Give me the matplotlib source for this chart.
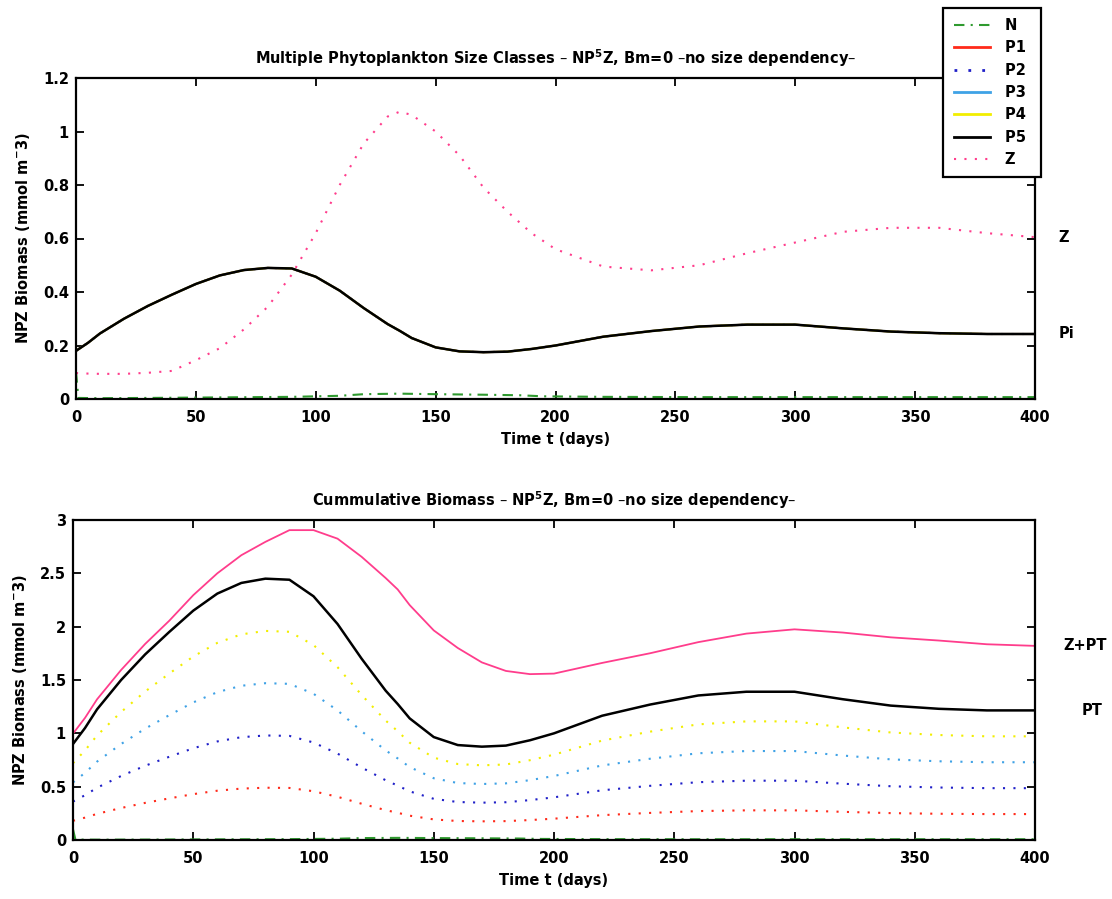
import matplotlib
matplotlib.use('Agg')
import matplotlib.pyplot as plt
import matplotlib.transforms as mtransforms
from matplotlib.lines import Line2D
from matplotlib.ticker import FormatStrFormatter
import numpy as np

# time axis (days) shared by phytoplankton and zooplankton
days = [0, 5, 10, 20, 30, 40, 50, 60, 70, 80, 90, 100, 110, 120, 130, 135, 140,
        150, 160, 170, 180, 190, 200, 220, 240, 260, 280, 300, 320, 340, 360, 380, 400]

# one size class (all five classes are identical: no size dependency)
phyto = [0.18, 0.21, 0.245, 0.30, 0.348, 0.39, 0.43, 0.462, 0.482, 0.49, 0.488, 0.457,
         0.405, 0.34, 0.28, 0.255, 0.228, 0.193, 0.178, 0.175, 0.177, 0.187, 0.20,
         0.233, 0.254, 0.271, 0.278, 0.278, 0.264, 0.252, 0.246, 0.243, 0.243]

zoo = [0.097, 0.095, 0.094, 0.094, 0.098, 0.105, 0.145, 0.19, 0.26, 0.345, 0.465, 0.62,
       0.80, 0.955, 1.056, 1.074, 1.062, 1.0, 0.91, 0.79, 0.70, 0.62, 0.56,
       0.495, 0.481, 0.50, 0.545, 0.585, 0.625, 0.640, 0.64, 0.62, 0.605]

# nutrient has its own sampling (initial spike, then near zero)
n_days = [0, 1, 10, 30, 60, 90, 110, 120, 135, 150, 170, 185, 195, 220, 260, 300, 340, 400]
n_vals = [0.10, 0.004, 0.003, 0.004, 0.006, 0.008, 0.012, 0.018, 0.02, 0.018, 0.016,
          0.014, 0.01, 0.008, 0.007, 0.007, 0.007, 0.007]

classes = ['P1', 'P2', 'P3', 'P4', 'P5']

c_n = '#2f9a2f'
c_cls = ['#ff2a1a', '#2020c8', '#3fa2e6', '#f2ee00', 'black']
c_z = '#ff3d8c'
dots = (0, (1, 4))
dashdot = (0, (5, 3, 1, 3))
top_styles = ['-', dots, '-', '-', '-']

plt.rcParams['font.family'] = 'DejaVu Sans'
plt.rcParams['font.size'] = 10
plt.rcParams['font.weight'] = 'bold'
plt.rcParams['axes.titleweight'] = 'bold'
plt.rcParams['axes.labelweight'] = 'bold'

x = np.array(days)
p = np.array(phyto)
z = np.array(zoo)

fig = plt.figure(figsize=(11.12, 8.99), dpi=100)
ax1 = fig.add_axes([76 / 1112, 1 - 399 / 899, (1035 - 76) / 1112, (399 - 78) / 899])
ax2 = fig.add_axes([73 / 1112, 1 - 840 / 899, (1035 - 73) / 1112, (840 - 520) / 899])

# --- individual size classes ---
ax1.plot(n_days, n_vals, color=c_n, lw=1.5, linestyle=dashdot)
for name, col, ls in zip(classes, c_cls, top_styles):
    lw = 1.8 if name == 'P5' else 1.5
    ax1.plot(x, p, color=col, lw=lw, linestyle=ls)
ax1.plot(x, z, color=c_z, lw=1.5, linestyle=dots)

ax1.set_xlim(0, 400)
ax1.set_ylim(0, 1.2)
ax1.set_yticks(np.arange(0, 1.21, 0.2))
ax1.set_title('Multiple Phytoplankton Size Classes – NP$^{\\mathbf{5}}$Z, Bm=0 –no size dependency–',
              fontsize=10.5, pad=10)

# --- cumulative biomass ---
ax2.plot(n_days, n_vals, color=c_n, lw=1.5, linestyle=dashdot)
cum = np.zeros_like(p)
for name, col in zip(classes, c_cls):
    cum = cum + p
    if name == 'P5':
        ax2.plot(x, cum, color=col, lw=1.8)
    else:
        ax2.plot(x, cum, color=col, lw=1.5, linestyle=dots)
ax2.plot(x, cum + z, color=c_z, lw=1.3)

ax2.set_xlim(0, 400)
ax2.set_ylim(0, 3)
ax2.set_yticks(np.arange(0, 3.01, 0.5))
ax2.set_title('Cummulative Biomass – NP$^{\\mathbf{5}}$Z, Bm=0 –no size dependency–',
              fontsize=10.5, pad=10)

for ax in (ax1, ax2):
    ax.set_xticks(np.arange(0, 401, 50))
    ax.yaxis.set_major_formatter(FormatStrFormatter('%g'))
    ax.set_xlabel('Time t (days)', fontsize=10.5, labelpad=5)
    ax.set_ylabel('NPZ Biomass (mmol m$^{\\mathbf{-}}$3)', fontsize=10.5, labelpad=8)
    ax.tick_params(direction='in', top=True, right=True, length=6, width=1.3,
                   labelsize=10.5)
    ax.tick_params(axis='x', pad=8)
    ax.tick_params(axis='y', pad=5)
    for s in ax.spines.values():
        s.set_linewidth(1.6)

# end-of-run labels on the right
tr1 = mtransforms.blended_transform_factory(ax1.transAxes, ax1.transData)
ax1.text(1.03, z[-1], 'Z', transform=tr1, ha='center', va='center', fontsize=10.5)
ax1.text(1.033, p[-1], 'Pi', transform=tr1, ha='center', va='center', fontsize=10.5)
tr2 = mtransforms.blended_transform_factory(ax2.transAxes, ax2.transData)
ax2.text(1.052, cum[-1] + z[-1], 'Z+PT', transform=tr2, ha='center', va='center', fontsize=10.5)
ax2.text(1.059, cum[-1], 'PT', transform=tr2, ha='center', va='center', fontsize=10.5)

# legend for the size classes
handles = [Line2D([], [], color=c_n, lw=1.5, linestyle=dashdot)]
for col, ls in zip(c_cls, top_styles):
    handles.append(Line2D([], [], color=col, lw=2.0, linestyle=ls))
handles.append(Line2D([], [], color=c_z, lw=1.5, linestyle=dots))
leg = fig.legend(handles, [s + ' ' for s in ['N'] + classes + ['Z']], loc='upper right',
                 bbox_to_anchor=(1041 / 1112, 1 - 8 / 899), fontsize=10.5,
                 fancybox=False, framealpha=1, edgecolor='black', borderaxespad=0,
                 handlelength=2.5, labelspacing=0.5, borderpad=0.7, handletextpad=1.0)
leg.get_frame().set_linewidth(1.6)

fig.savefig('out.png', dpi=100)
